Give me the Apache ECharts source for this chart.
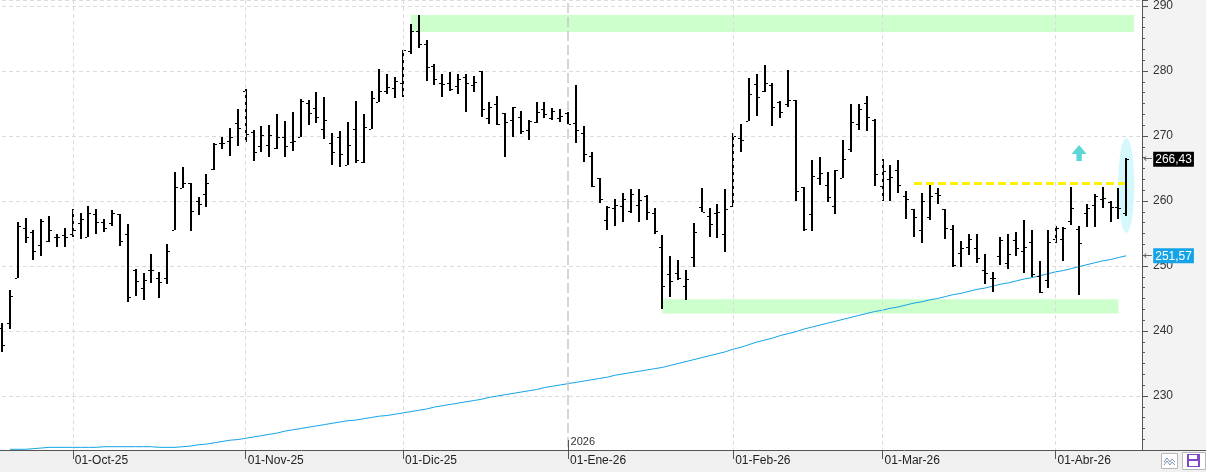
<!DOCTYPE html>
<html><head><meta charset="utf-8">
<script src="https://cdn.jsdelivr.net/npm/echarts@6/dist/echarts.min.js"></script>
<style>html,body{margin:0;padding:0;background:#fff}#c{width:1206px;height:472px}</style>
</head><body><div id="c"></div>
<script>
// ---- Data ----
const categories = [
 '2025-09-18','2025-09-19','2025-09-22','2025-09-23','2025-09-24','2025-09-25','2025-09-26','2025-09-29','2025-09-30',
 '2025-10-01','2025-10-02','2025-10-03','2025-10-06','2025-10-07','2025-10-08','2025-10-09','2025-10-10','2025-10-13','2025-10-14','2025-10-15','2025-10-16','2025-10-17','2025-10-20','2025-10-21','2025-10-22','2025-10-23','2025-10-24','2025-10-27','2025-10-28','2025-10-29','2025-10-30',
 '2025-11-03','2025-11-04','2025-11-05','2025-11-06','2025-11-07','2025-11-10','2025-11-11','2025-11-12','2025-11-13','2025-11-14','2025-11-17','2025-11-18','2025-11-19','2025-11-20','2025-11-21','2025-11-24','2025-11-25','2025-11-26','2025-11-27','2025-11-28',
 '2025-12-01','2025-12-02','2025-12-03','2025-12-04','2025-12-05','2025-12-08','2025-12-09','2025-12-10','2025-12-11','2025-12-12','2025-12-15','2025-12-16','2025-12-17','2025-12-18','2025-12-19','2025-12-22','2025-12-23','2025-12-24','2025-12-29','2025-12-30','2025-12-31',
 '2026-01-02','2026-01-05','2026-01-06','2026-01-07','2026-01-08','2026-01-09','2026-01-12','2026-01-13','2026-01-14','2026-01-15','2026-01-16','2026-01-19','2026-01-20','2026-01-21','2026-01-22','2026-01-23','2026-01-26','2026-01-27','2026-01-28','2026-01-29','2026-01-30',
 '2026-02-02','2026-02-03','2026-02-04','2026-02-05','2026-02-06','2026-02-09','2026-02-10','2026-02-11','2026-02-12','2026-02-13','2026-02-16','2026-02-17','2026-02-18','2026-02-19','2026-02-20','2026-02-23','2026-02-24','2026-02-25','2026-02-26',
 '2026-03-02','2026-03-03','2026-03-04','2026-03-05','2026-03-06','2026-03-09','2026-03-10','2026-03-11','2026-03-12','2026-03-13','2026-03-16','2026-03-17','2026-03-18','2026-03-19','2026-03-20','2026-03-23','2026-03-24','2026-03-25','2026-03-26','2026-03-27','2026-03-30','2026-03-31',
 '2026-04-01','2026-04-02','2026-04-07','2026-04-08','2026-04-09','2026-04-10','2026-04-13','2026-04-14','2026-04-15','2026-04-16','2026-04-17','2026-04-20'
];
const open = [
 240.5,241.2,248.2,255.8,255.3,253.2,253.9,254.5,254.8,254.9,
 256.6,254.5,258.0,256.7,256.6,258.0,254.9,249.4,246.6,249.4,
 248.1,248.1,255.6,262.0,262.8,260.0,261.1,264.9,269.0,269.3,
 272.0,277.0,270.6,268.4,268.6,268.1,269.8,269.1,269.8,275.0,
 274.3,271.1,268.9,269.9,265.5,271.1,266.0,271.1,275.2,276.9,
 277.4,278.1,283.1,286.1,284.1,280.7,278.2,278.2,277.7,279.1,
 277.8,280.0,272.7,274.9,273.5,272.4,272.9,270.9,272.2,274.1,
 272.8,272.7,273.6,272.0,270.5,266.9,263.6,257.1,258.9,259.3,
 258.5,259.4,260.8,258.1,252.9,248.8,249.0,246.9,251.4,259.1,
 257.7,258.1,255.0,259.2,269.7,272.3,278.0,277.0,277.9,275.2,
 274.9,275.5,262.2,258.0,263.5,262.4,259.2,263.5,268.0,271.8,
 275.0,272.5,262.3,263.4,264.8,260.7,258.7,255.6,257.5,261.3,
 258.7,255.7,252.0,252.9,252.7,249.4,248.1,251.5,250.4,254.0,
 252.3,253.7,248.5,247.9,254.1,254.2,256.9,255.7,258.1,259.4,
 260.3,259.8,259.1,258.1
];
const high = [
 241.2,246.3,256.7,257.4,255.5,257.2,257.7,254.9,255.9,258.7,
 258.1,259.2,258.7,257.3,258.6,258.0,256.5,249.6,248.9,251.8,
 249.1,253.4,264.4,265.2,262.8,260.6,264.2,269.0,269.9,271.3,
 274.2,277.2,270.9,271.5,271.7,273.4,272.3,273.7,275.7,275.6,
 276.8,276.0,270.4,270.7,272.2,275.4,273.4,276.9,280.3,279.5,
 279.1,283.3,287.3,288.6,284.8,281.0,279.6,279.9,279.6,279.5,
 279.2,280.0,275.3,276.2,273.6,274.4,273.8,272.4,275.3,275.3,
 274.3,274.1,273.7,277.9,271.5,267.5,263.6,259.2,260.3,261.2,
 261.9,261.9,261.0,258.9,254.8,251.6,250.9,249.4,256.6,262.0,
 258.9,259.6,261.8,270.5,271.8,278.9,279.5,280.9,278.1,275.4,
 280.2,275.5,262.2,266.3,266.7,264.5,264.8,269.4,274.9,274.9,
 276.2,272.6,266.5,265.5,266.3,261.5,258.7,261.2,262.5,262.0,
 258.8,256.3,253.8,255.0,254.9,251.8,249.1,254.4,254.9,255.2,
 257.1,255.6,250.8,255.6,256.2,256.0,262.1,256.2,259.6,261.1,
 262.1,260.0,262.0,266.6
];
const low = [
 236.7,240.3,248.1,253.5,250.9,251.5,253.7,253.0,253.0,254.4,
 254.1,254.4,255.0,255.3,256.2,253.1,244.5,245.4,244.7,247.4,
 245.1,247.2,255.6,262.0,255.4,257.8,259.1,264.7,268.0,267.0,
 268.4,269.1,266.2,267.6,266.8,268.0,266.7,267.7,269.8,271.7,
 272.0,269.6,265.5,265.3,265.5,265.9,265.9,271.0,275.2,276.5,
 275.9,276.0,282.6,283.6,278.5,277.9,276.0,276.9,276.4,273.7,
 276.7,272.9,271.8,271.7,266.8,269.9,270.3,269.4,272.0,272.8,
 272.4,272.2,271.8,269.0,266.0,262.2,259.7,255.6,256.2,256.8,
 258.1,256.7,257.0,255.0,243.4,245.2,247.8,244.7,249.8,258.3,
 254.5,254.3,252.2,259.1,267.6,272.3,273.1,276.7,271.6,272.8,
 274.4,260.0,255.4,255.4,262.4,259.9,258.0,263.5,267.6,270.9,
 270.7,262.3,260.0,260.0,261.3,257.2,254.4,253.6,257.0,259.5,
 254.1,249.9,249.9,251.7,250.4,247.2,246.0,250.2,249.5,251.5,
 248.9,248.3,245.8,246.6,253.5,250.7,256.3,245.6,256.0,256.0,
 258.9,256.7,257.2,257.7
];
const close = [
 237.8,245.4,256.2,254.4,252.3,256.9,255.5,254.5,254.5,255.5,
 257.2,258.1,256.7,255.9,258.1,253.9,245.2,247.7,247.8,249.4,
 247.5,252.3,262.2,262.8,258.4,259.6,262.8,268.8,269.0,269.8,
 271.2,270.3,267.6,270.1,270.1,269.8,268.5,269.3,275.4,273.5,
 273.0,272.5,267.5,267.3,268.6,266.3,271.4,275.8,276.9,277.5,
 278.4,283.3,286.1,284.2,280.6,278.7,278.0,277.2,278.7,278.1,
 278.3,274.1,274.4,271.8,272.2,274.4,270.8,272.3,273.7,273.4,
 273.8,273.1,271.8,270.9,267.2,262.3,260.3,259.1,259.4,260.3,
 261.1,260.2,258.3,255.4,246.9,247.7,248.2,248.0,255.3,258.3,
 256.4,258.3,258.8,270.0,269.4,276.5,276.0,278.1,274.4,273.7,
 275.5,261.6,255.7,263.8,264.3,260.6,264.8,266.4,272.1,274.2,
 272.9,264.1,264.6,263.7,262.5,260.3,257.5,260.0,260.7,260.9,
 255.8,250.1,252.7,254.2,251.2,248.9,248.1,254.0,251.8,252.7,
 252.9,248.7,246.0,253.7,255.8,255.8,258.9,253.5,258.9,260.8,
 260.5,259.1,258.9,266.43
];
const ma = [
 null,221.8,221.8,221.8,221.9,222.0,222.1,222.1,222.1,222.1,
 222.1,222.1,222.1,222.2,222.2,222.2,222.2,222.2,222.2,222.2,
 222.1,222.1,222.1,222.2,222.3,222.5,222.6,222.8,223.0,223.2,
 223.3,223.5,223.7,223.9,224.1,224.3,224.6,224.8,225.0,225.2,
 225.4,225.6,225.8,226.0,226.2,226.3,226.5,226.7,226.9,227.0,
 227.2,227.4,227.6,227.8,228.0,228.3,228.5,228.7,228.9,229.1,
 229.3,229.5,229.8,230.0,230.2,230.4,230.6,230.8,231.0,231.3,
 231.5,231.7,231.9,232.1,232.3,232.5,232.7,232.9,233.2,233.4,
 233.6,233.8,234.0,234.2,234.4,234.7,235.0,235.3,235.6,235.9,
 236.2,236.5,236.8,237.2,237.5,237.9,238.3,238.6,238.9,239.3,
 239.6,239.9,240.3,240.6,240.9,241.2,241.5,241.8,242.1,242.4,
 242.7,243.0,243.2,243.5,243.7,244.0,244.3,244.5,244.8,245.0,
 245.3,245.6,245.8,246.1,246.4,246.6,246.9,247.2,247.4,247.7,
 248.0,248.2,248.5,248.8,249.1,249.3,249.6,249.9,250.2,250.5,
 250.8,251.0,251.3,251.57
];
const yTicks = [230, 240, 250, 260, 270, 280, 290];
// annotations: [fromIdx, toIdx, lowValue, highValue]
const resistanceZone = [52, 144, 286.0, 288.6];
const supportZone = [84, 142, 242.7, 244.9];
const breakoutLine = [116, 143, 262.8];   // [fromIdx, toIdx, value]
const focusEllipse = [143, 262.4];
const upArrow = [137, 267.4];
const yearLabelValue = 223.0;
const monthNames = ['Ene','Feb','Mar','Abr','May','Jun','Jul','Ago','Sep','Oct','Nov','Dic'];

// ---- helpers ----
const ym = s => s.slice(0, 7);
const isMonthStart = i => i > 0 && ym(categories[i]) !== ym(categories[i - 1]);
const yearIdx = categories.findIndex((d, i) => i > 0 && d.slice(0, 4) !== categories[i - 1].slice(0, 4));
const fmtMonth = v => '01-' + monthNames[+v.slice(5, 7) - 1] + '-' + v.slice(2, 4);
const fmtNum = v => v.toFixed(2).replace('.', ',');
const lastClose = close[close.length - 1];
const lastMa = ma[ma.length - 1];
const ohlc = open.map((o, i) => [i, o, high[i], low[i], close[i]]);

const chart = echarts.init(document.getElementById('c'), null, {renderer: 'canvas'});
const option = {
  animation: false,
  backgroundColor: '#fff',
  textStyle: {fontFamily: 'Liberation Sans'},
  grid: {left: 2, right: 64, top: 0, bottom: 11},
  xAxis: {
    type: 'category', data: categories, boundaryGap: false, offset: -11, z: 20,
    axisLine: {show: false},
    axisTick: {show: true, interval: (i) => isMonthStart(i), length: 9, lineStyle: {color: '#555'}},
    axisLabel: {interval: (i) => isMonthStart(i), formatter: fmtMonth, align: 'left', margin: 5,
      fontSize: 12, color: '#222', padding: [0, 0, 0, 2]},
    splitLine: {show: true, interval: (i) => isMonthStart(i) && i !== yearIdx,
      lineStyle: {color: '#dcdcdc', type: [4, 3], width: 1}}
  },
  yAxis: {
    type: 'value', position: 'right', min: 220, max: 290.92, interval: 10,
    axisLine: {show: true, lineStyle: {color: '#555'}},
    axisTick: {show: true, length: 6, lineStyle: {color: '#555'}},
    minorTick: {show: true, splitNumber: 6, length: 3, lineStyle: {color: '#555'}},
    axisLabel: {margin: 11, fontSize: 12, color: '#333',
      formatter: v => yTicks.includes(v) ? String(v) : ''},
    splitLine: {show: true, lineStyle: {color: '#dcdcdc', type: [4, 3], width: 1}}
  },
  graphic: [
    {type: 'rect', shape: {x: 1143, y: 0, width: 63, height: 450}, style: {fill: '#f3f3f4'}, z: -1},
    {type: 'rect', shape: {x: 0, y: 450, width: 1206, height: 22}, style: {fill: '#f0f0f0'}, z: 10},
    {type: 'line', shape: {x1: 0, y1: 450.5, x2: 1206, y2: 450.5}, style: {stroke: '#555', lineWidth: 1}, z: 11},
    {type: 'rect', shape: {x: 1161.5, y: 453.5, width: 16, height: 15}, style: {fill: '#fff', stroke: '#b8b8b8'}, z: 12},
    {type: 'polyline', shape: {points: [[1164, 462], [1167, 458], [1170, 462], [1172, 459], [1175, 462]]}, style: {stroke: '#7f93b8', lineWidth: 1, fill: null}, z: 13},
    {type: 'polyline', shape: {points: [[1164, 465], [1167, 461], [1170, 465], [1172, 462], [1175, 465]]}, style: {stroke: '#7f93b8', lineWidth: 1, fill: null}, z: 13},
    {type: 'rect', shape: {x: 1182.5, y: 452.5, width: 23, height: 17}, style: {fill: '#fff', stroke: '#b8b8b8'}, z: 12},
    {type: 'rect', shape: {x: 1187, y: 454, width: 13, height: 13}, style: {fill: '#8048c8'}, z: 13},
    {type: 'rect', shape: {x: 1189, y: 455, width: 8, height: 4}, style: {fill: '#fff'}, z: 14},
    {type: 'rect', shape: {x: 1189, y: 461, width: 9, height: 5}, style: {fill: '#fff'}, z: 14}
  ],
  series: [
    {
      name: 'zones', type: 'scatter', z: 1, silent: true,
      data: [[categories[focusEllipse[0]], focusEllipse[1]]],
      symbol: 'circle', symbolSize: [16, 95], itemStyle: {color: '#c9f8fc'},
      markArea: {
        silent: true, itemStyle: {color: '#ccffcc', opacity: 1},
        data: [
          [{xAxis: categories[resistanceZone[0]], yAxis: resistanceZone[2]}, {xAxis: categories[resistanceZone[1]], yAxis: resistanceZone[3]}],
          [{xAxis: categories[supportZone[0]], yAxis: supportZone[2]}, {xAxis: categories[supportZone[1]], yAxis: supportZone[3]}]
        ]
      },
      markLine: {
        silent: true, symbol: ['none', 'none'], label: {show: false},
        data: [
          {xAxis: categories[yearIdx], lineStyle: {color: '#c8c8c8', type: [10, 4], width: 1.5}},
          [{coord: [categories[yearIdx], 223.23], lineStyle: {color: '#555', type: 'solid', width: 1}},
           {coord: [categories[yearIdx], 221.69]}]
        ]
      },
      markPoint: {
        silent: true, symbol: 'rect', symbolSize: 1, itemStyle: {color: 'rgba(0,0,0,0)'},
        data: [{coord: [categories[yearIdx], yearLabelValue],
          label: {show: true, formatter: categories[yearIdx].slice(0, 4), position: 'right', distance: 2,
            color: '#333', fontSize: 11}}]
      }
    },
    {
      name: 'MA', type: 'line', data: ma, z: 4, symbol: 'none', showSymbol: false, silent: true,
      lineStyle: {color: '#14a3e6', width: 1},
      markLine: {
        silent: true, symbol: ['none', 'none'],
        data: [
          [{coord: [categories[breakoutLine[0]], breakoutLine[2]],
            lineStyle: {color: '#fff200', width: 3, type: [8, 4]}, label: {show: false}},
           {coord: [categories[breakoutLine[1]], breakoutLine[2]]}],
          {yAxis: lastClose, lineStyle: {color: 'rgba(0,0,0,0)', width: 0},
           label: {show: true, position: 'end', distance: 1, formatter: '{a|←}{b|' + fmtNum(lastClose) + '}',
             rich: {a: {color: '#666', fontSize: 11, fontFamily: 'DejaVu Sans', padding: [0, 1, 0, 0]},
                    b: {backgroundColor: '#000', color: '#fff', fontSize: 12, padding: [2, 2, 1, 2]}}}},
          {yAxis: lastMa, lineStyle: {color: 'rgba(0,0,0,0)', width: 0},
           label: {show: true, position: 'end', distance: 1, formatter: '{a|←}{b|' + fmtNum(lastMa) + '}',
             rich: {a: {color: '#666', fontSize: 11, fontFamily: 'DejaVu Sans', padding: [0, 1, 0, 0]},
                    b: {backgroundColor: '#14a3e6', color: '#fff', fontSize: 12, padding: [2, 2, 1, 2]}}}}
        ]
      }
    },
    {
      name: 'OHLC', type: 'custom', z: 5, silent: true, data: ohlc,
      encode: {x: 0, y: [1, 2, 3, 4]},
      renderItem: function (params, api) {
        const i = api.value(0);
        const pO = api.coord([i, api.value(1)]);
        const pH = api.coord([i, api.value(2)]);
        const pL = api.coord([i, api.value(3)]);
        const pC = api.coord([i, api.value(4)]);
        const x = Math.round(pO[0]);
        const st = {fill: '#000'};
        return {type: 'group', children: [
          {type: 'rect', shape: {x: x - 1, y: Math.round(pH[1]), width: 2, height: Math.max(1, Math.round(pL[1]) - Math.round(pH[1]))}, style: st},
          {type: 'rect', shape: {x: x - 3, y: Math.round(pO[1]), width: 2, height: 1}, style: st},
          {type: 'rect', shape: {x: x + 1, y: Math.round(pC[1]), width: 2, height: 1}, style: st}
        ]};
      }
    },
    {
      name: 'arrow', type: 'scatter', z: 6, silent: true,
      data: [[categories[upArrow[0]], upArrow[1]]],
      symbol: 'path://M7,0L14,9L9.5,9L9.5,16L4.5,16L4.5,9L0,9Z', symbolSize: [15, 16],
      itemStyle: {color: '#33cccc'}
    }
  ]
};
chart.setOption(option);
</script>
</body></html>
